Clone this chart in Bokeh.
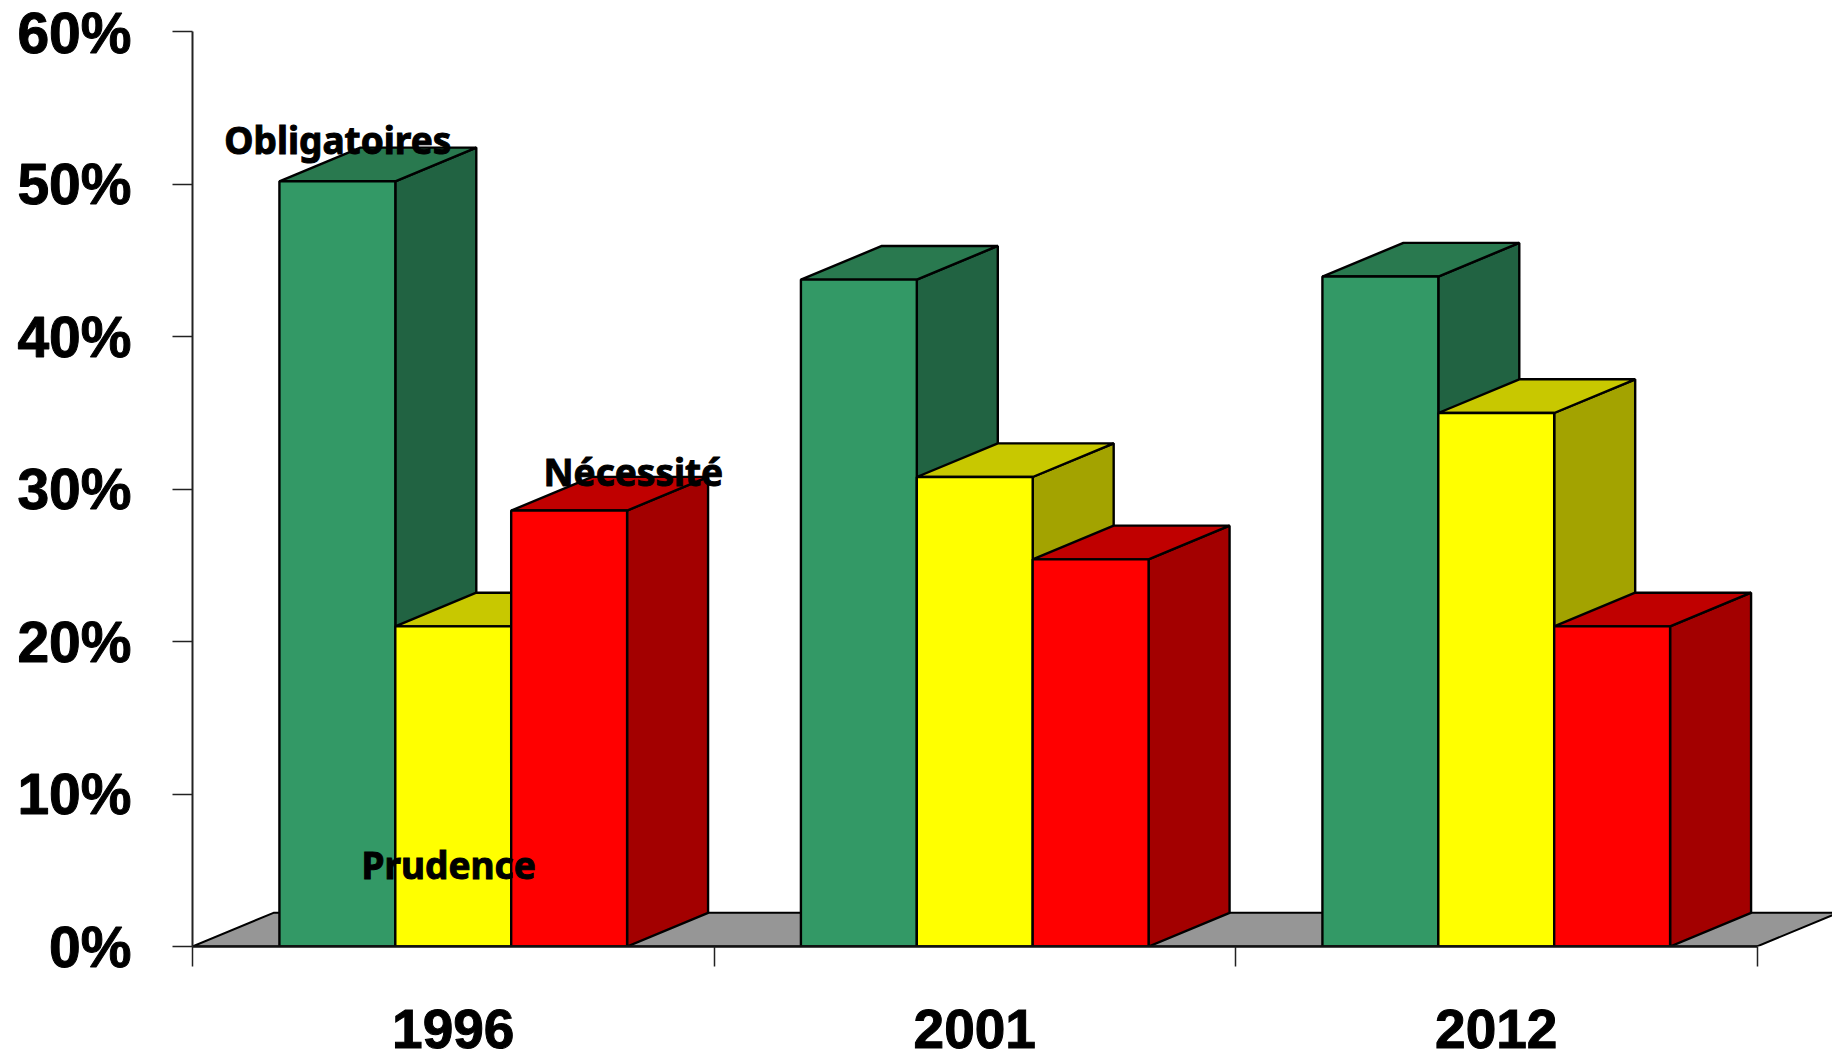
from bokeh.embed import file_html
from bokeh.resources import INLINE
from bokeh.plotting import figure
from bokeh.models import FixedTicker, Range1d
from bokeh.core.properties import value

# Shares per survey year, in percent
years = ["1996", "2001", "2012"]
obligatoires = [50.2, 43.75, 43.95]
prudence = [21.0, 30.8, 35.0]
necessite = [28.6, 25.4, 21.0]
y_ticks = [0, 10, 20, 30, 40, 50, 60]
y_tick_labels = ["0%", "10%", "20%", "30%", "40%", "50%", "60%"]

# Annotations: text, x in category units, y in percent
series_labels = ["Obligatoires", "Nécessité", "Prudence"]
series_label_x = [0.061, 0.673, 0.324]
series_label_y = [52.95, 31.15, 5.35]

# Face colours of each bar: front, top, side
green_faces = ("#339966", "#29794f", "#216342")
yellow_faces = ("#ffff00", "#c8c800", "#a3a300")
red_faces = ("#ff0000", "#c00000", "#a30000")
series = [(obligatoires, green_faces), (prudence, yellow_faces), (necessite, red_faces)]

BAR_W = 1 / 4.5
DEPTH_X = 0.1553
DEPTH_Y = 2.21
HEAVY = "Liberation Sans"

p = figure(width=1832, height=1052, output_backend="svg", toolbar_location=None,
           x_range=Range1d(0, 1640 / 521.5), y_range=Range1d(0, 945.5 / 15.235),
           min_border_left=192, min_border_right=0, min_border_top=0, min_border_bottom=106)
p.grid.visible = False
p.outline_line_color = None
p.background_fill_color = "white"

# Grey floor behind the bars
p.patch([0, 3, 3 + DEPTH_X, DEPTH_X], [0, 0, DEPTH_Y, DEPTH_Y],
        fill_color="#969696", line_color="black", line_width=2)

# Each bar is three faces, painted from the back of the group forward
for g in range(len(years)):
    for s, (vals, (front, top, side)) in enumerate(series):
        x0 = g + BAR_W * (0.75 + s)
        x1 = x0 + BAR_W
        v = vals[g]
        p.patch([x1, x1 + DEPTH_X, x1 + DEPTH_X, x1], [0, DEPTH_Y, v + DEPTH_Y, v],
                fill_color=side, line_color="black", line_width=2.4)
        p.patch([x0, x1, x1 + DEPTH_X, x0 + DEPTH_X], [v, v, v + DEPTH_Y, v + DEPTH_Y],
                fill_color=top, line_color="black", line_width=2.4)
        p.patch([x0, x1, x1, x0], [0, 0, v, v],
                fill_color=front, line_color="black", line_width=2.4)

p.text(series_label_x, series_label_y, text=series_labels, text_font=value("Noto Sans"),
       text_font_style="bold", text_font_size="37px", text_color="black",
       text_outline_color="black",
       text_baseline="alphabetic", text_align="left", level="annotation")

# Year captions sit under the axis, centred on each group
p.text([g + 0.5 for g in range(len(years))], [-5.4] * len(years), text=years,
       text_font=value(HEAVY), text_font_style="bold", text_font_size="55px",
       text_color="black", text_outline_color="black",
       text_baseline="alphabetic", text_align="center", level="annotation")

xa = p.xaxis[0]
xa.ticker = FixedTicker(ticks=[], minor_ticks=[0, 1, 2, 3])
xa.bounds = (0, 3)
xa.major_tick_line_color = None
xa.major_tick_out = 0
xa.major_tick_in = 0
xa.minor_tick_out = 20
xa.minor_tick_in = 0
xa.minor_tick_line_width = 1.5
xa.minor_tick_line_color = "#222222"
xa.axis_line_width = 2.4
xa.axis_line_color = "#111111"

ya = p.yaxis[0]
ya.ticker = FixedTicker(ticks=y_ticks, minor_ticks=[])
ya.major_label_overrides = dict(zip(y_ticks, y_tick_labels))
ya.bounds = (0, 60)
ya.major_tick_out = 20
ya.major_tick_in = 0
ya.major_tick_line_width = 1.5
ya.major_tick_line_color = "#222222"
ya.axis_line_width = 2
ya.axis_line_color = "#222222"
ya.major_label_standoff = 41
ya.major_label_text_font = HEAVY
ya.major_label_text_font_style = "bold"
ya.major_label_text_font_size = "57px"
ya.major_label_text_color = "black"
ya.major_label_text_outline_color = "black"

open("out.html", "w").write(file_html(p, INLINE))
